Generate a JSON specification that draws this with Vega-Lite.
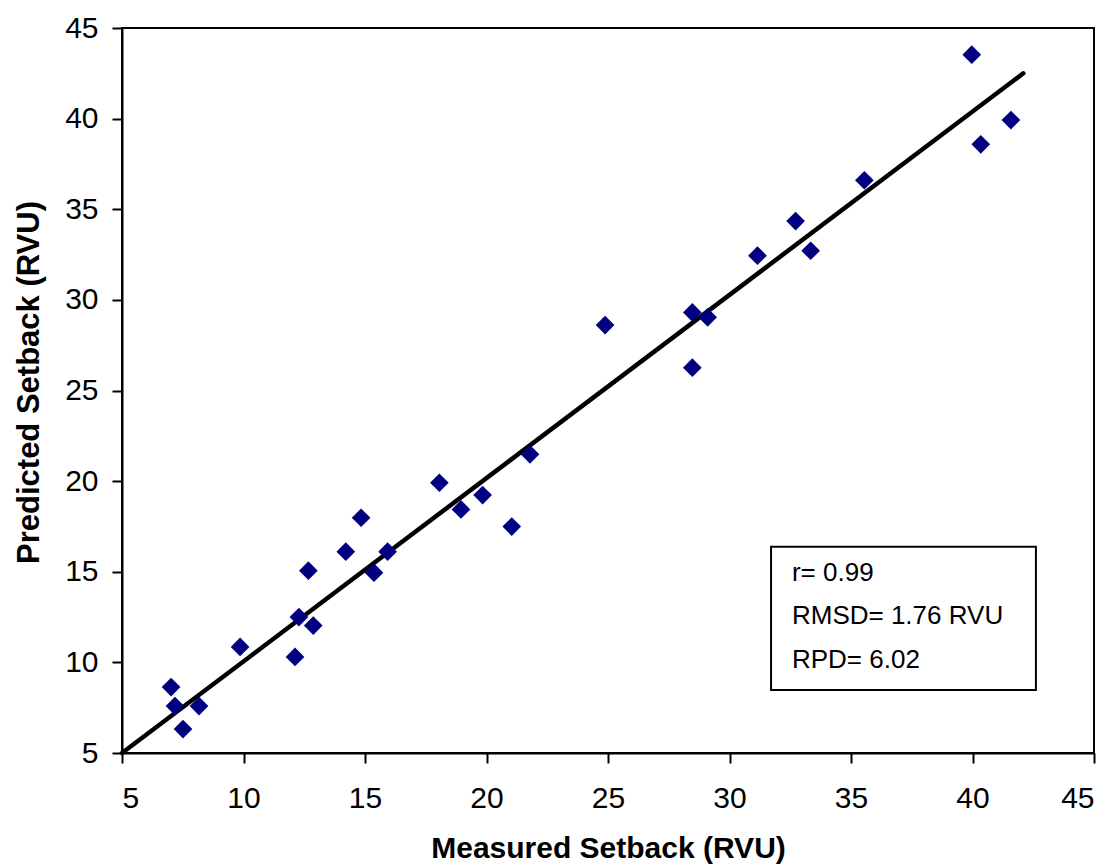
{
  "$schema": "https://vega.github.io/schema/vega-lite/v6.json",
  "width": 972,
  "height": 725,
  "autosize": {"type": "none"},
  "padding": {"left": 122, "top": 28, "right": 22, "bottom": 112},
  "background": "white",
  "config": {
    "view": {"stroke": "black", "strokeWidth": 2},
    "axis": {
      "grid": false,
      "domainColor": "black",
      "domainWidth": 2,
      "tickColor": "black",
      "tickWidth": 2,
      "tickSize": 10,
      "labelFont": "Liberation Sans",
      "labelFontSize": 30,
      "labelColor": "black",
      "titleFont": "Liberation Sans",
      "titleFontWeight": "bold",
      "titleFontSize": 30,
      "titleColor": "black"
    }
  },
  "datasets": {
    "points": [
      {"measured": 7.02, "predicted": 8.64},
      {"measured": 7.18, "predicted": 7.59},
      {"measured": 7.51, "predicted": 6.32},
      {"measured": 8.17, "predicted": 7.59},
      {"measured": 9.86, "predicted": 10.85},
      {"measured": 12.12, "predicted": 10.30},
      {"measured": 12.28, "predicted": 12.50},
      {"measured": 12.87, "predicted": 12.03},
      {"measured": 12.67, "predicted": 15.06},
      {"measured": 14.21, "predicted": 16.11},
      {"measured": 14.84, "predicted": 17.98},
      {"measured": 15.37, "predicted": 14.95},
      {"measured": 15.93, "predicted": 16.11},
      {"measured": 18.06, "predicted": 19.91},
      {"measured": 18.95, "predicted": 18.44},
      {"measured": 19.84, "predicted": 19.23},
      {"measured": 21.04, "predicted": 17.49},
      {"measured": 21.79, "predicted": 21.48},
      {"measured": 24.88, "predicted": 28.61},
      {"measured": 28.47, "predicted": 29.31},
      {"measured": 29.10, "predicted": 29.04},
      {"measured": 28.47, "predicted": 26.26},
      {"measured": 31.15, "predicted": 32.44},
      {"measured": 32.72, "predicted": 34.35},
      {"measured": 33.34, "predicted": 32.71},
      {"measured": 35.55, "predicted": 36.60},
      {"measured": 39.97, "predicted": 43.53},
      {"measured": 40.34, "predicted": 38.58},
      {"measured": 41.58, "predicted": 39.92}
    ],
    "fit": [
      {"measured": 5, "predicted": 5},
      {"measured": 42.09, "predicted": 42.5}
    ],
    "box": [
      {"x1": 31.71, "x2": 42.61, "y1": 16.38, "y2": 8.48}
    ],
    "stats": [
      {"label": "r= 0.99", "x": 32.57, "y": 14.93},
      {"label": "RMSD= 1.76 RVU", "x": 32.57, "y": 12.56},
      {"label": "RPD= 6.02", "x": 32.57, "y": 10.13}
    ]
  },
  "layer": [
    {
      "data": {"name": "fit"},
      "mark": {"type": "line", "color": "black", "strokeWidth": 4.5, "strokeCap": "round"},
      "encoding": {
        "x": {
          "field": "measured", "type": "quantitative",
          "title": "Measured Setback (RVU)",
          "scale": {"domain": [5, 45], "nice": false, "zero": false},
          "axis": {
            "values": [5, 10, 15, 20, 25, 30, 35, 40, 45],
            "labelPadding": 20,
            "titleY": 104,
            "titleBaseline": "alphabetic"
          }
        },
        "y": {
          "field": "predicted", "type": "quantitative",
          "title": "Predicted Setback (RVU)",
          "scale": {"domain": [5, 45], "nice": false, "zero": false},
          "axis": {
            "values": [5, 10, 15, 20, 25, 30, 35, 40, 45],
            "labelPadding": 14,
            "titleFontSize": 31,
            "titleX": -84,
            "titleY": 354,
            "titleAngle": -90,
            "titleAlign": "center",
            "titleBaseline": "alphabetic"
          }
        }
      }
    },
    {
      "data": {"name": "points"},
      "mark": {"type": "point", "shape": "diamond", "filled": true, "color": "#000080", "size": 350, "opacity": 1},
      "encoding": {
        "x": {"field": "measured", "type": "quantitative", "title": "Measured Setback (RVU)"},
        "y": {"field": "predicted", "type": "quantitative", "title": "Predicted Setback (RVU)"}
      }
    },
    {
      "data": {"name": "box"},
      "mark": {"type": "rect", "fill": "white", "stroke": "black", "strokeWidth": 2},
      "encoding": {
        "x": {"field": "x1", "type": "quantitative", "title": "Measured Setback (RVU)"},
        "x2": {"field": "x2"},
        "y": {"field": "y1", "type": "quantitative", "title": "Predicted Setback (RVU)"},
        "y2": {"field": "y2"}
      }
    },
    {
      "data": {"name": "stats"},
      "mark": {"type": "text", "align": "left", "baseline": "middle", "font": "Liberation Sans", "fontSize": 26, "color": "black"},
      "encoding": {
        "x": {"field": "x", "type": "quantitative", "title": "Measured Setback (RVU)"},
        "y": {"field": "y", "type": "quantitative", "title": "Predicted Setback (RVU)"},
        "text": {"field": "label"}
      }
    }
  ]
}
